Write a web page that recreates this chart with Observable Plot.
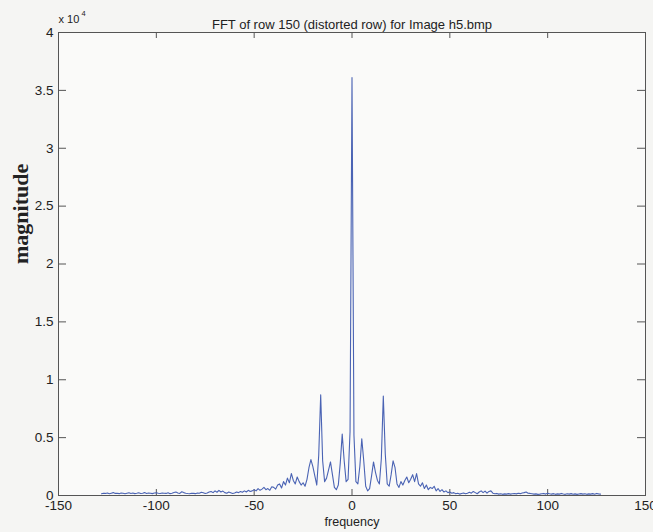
<!DOCTYPE html>
<html>
<head>
<meta charset="utf-8">
<script src="https://cdn.jsdelivr.net/npm/d3@7"></script>
<script src="https://cdn.jsdelivr.net/npm/@observablehq/plot@0.6"></script>
<style>
  html, body { margin: 0; padding: 0; background: #f5f5f3; }
  #chart svg { display: block; }
</style>
</head>
<body>
<div id="chart"></div>
<script>
// Frequency index (fftshift of a 256-point row FFT)
const frequency = d3.range(-128, 128);
// Magnitude in units of 10^4
const magnitude = [
  0.015,0.02,0.018,0.022,0.015,0.02,0.025,0.018,
  0.02,0.016,0.022,0.019,0.015,0.02,0.024,0.018,0.021,0.016,
  0.019,0.023,0.017,0.02,0.025,0.018,0.022,0.02,0.016,0.021,
  0.024,0.019,0.017,0.022,0.02,0.018,0.023,0.016,0.02,0.026,
  0.03,0.022,0.018,0.032,0.025,0.02,0.017,0.015,0.02,0.018,
  0.016,0.022,0.02,0.028,0.024,0.018,0.022,0.03,0.035,0.025,
  0.04,0.028,0.045,0.03,0.038,0.025,0.02,0.03,0.024,0.018,
  0.022,0.03,0.025,0.035,0.028,0.04,0.03,0.045,0.035,0.04,
  0.05,0.04,0.06,0.045,0.055,0.07,0.05,0.06,0.045,0.075,
  0.07,0.055,0.09,0.1,0.065,0.12,0.09,0.15,0.11,0.19,
  0.13,0.1,0.16,0.12,0.09,0.11,0.08,0.14,0.24,0.31,
  0.25,0.17,0.09,0.35,0.87,0.3,0.12,0.15,0.22,0.29,
  0.18,0.07,0.05,0.09,0.28,0.53,0.3,0.12,0.14,0.55,
  3.61,
  0.52,0.12,0.1,0.25,0.49,0.3,0.08,0.04,0.06,0.17,
  0.29,0.2,0.13,0.1,0.32,0.86,0.36,0.1,0.08,0.18,
  0.3,0.24,0.1,0.07,0.12,0.09,0.13,0.16,0.11,0.14,
  0.18,0.12,0.19,0.1,0.08,0.11,0.06,0.09,0.05,0.07,
  0.06,0.08,0.04,0.06,0.035,0.05,0.03,0.04,0.025,0.03,
  0.02,0.025,0.015,0.02,0.012,0.018,0.022,0.015,0.02,0.028,
  0.02,0.035,0.025,0.015,0.03,0.04,0.025,0.038,0.02,0.035,
  0.04,0.02,0.015,0.018,0.012,0.015,0.01,0.014,0.012,0.016,
  0.012,0.015,0.018,0.014,0.02,0.016,0.022,0.025,0.03,0.02,
  0.018,0.015,0.012,0.014,0.01,0.012,0.015,0.018,0.012,0.02,
  0.015,0.012,0.016,0.01,0.014,0.012,0.018,0.013,0.01,0.015,
  0.012,0.016,0.011,0.014,0.01,0.013,0.016,0.012,0.015,0.01,
  0.014,0.012,0.016,0.011,0.018,0.014,0.012
];
const xTicks = [-150, -100, -50, 0, 50, 100, 150];
const yTicks = [0, 0.5, 1, 1.5, 2, 2.5, 3, 3.5, 4];
const titleText = "FFT of row 150 (distorted row) for Image h5.bmp";
const xLabel = "frequency";
const yLabel = "magnitude";

const data = frequency.map((f, i) => ({f, m: magnitude[i]}));
const font = "'Liberation Sans', Arial, sans-serif";
const axisColor = "#555";

const chart = Plot.plot({
  width: 653,
  height: 532,
  marginLeft: 58,
  marginRight: 8,
  marginTop: 32,
  marginBottom: 37,
  style: {background: "transparent", fontFamily: font, fontSize: "14px", color: "#222"},
  x: {domain: [-150, 150]},
  y: {domain: [0, 4]},
  marks: [
    Plot.frame({stroke: axisColor, fill: "#fafaf9"}),
    Plot.axisX(xTicks, {anchor: "bottom", tickSize: 0, tickPadding: 5, label: null, fontSize: 13.5, tickFormat: d => String(d)}),
    Plot.tickX(xTicks, {x: d => d, stroke: axisColor, insetTop: 457}),
    Plot.tickX(xTicks, {x: d => d, stroke: axisColor, insetBottom: 457}),
    Plot.axisY(yTicks, {anchor: "left", tickSize: 0, tickPadding: 5, label: null, fontSize: 13.5, tickFormat: d => String(d)}),
    Plot.tickY(yTicks, {y: d => d, stroke: axisColor, insetRight: 579}),
    Plot.tickY(yTicks, {y: d => d, stroke: axisColor, insetLeft: 579}),
    Plot.line(data, {x: "f", y: "m", stroke: "#4a63b4", strokeWidth: 1.1}),
    Plot.text([titleText], {frameAnchor: "top", dy: -13, fontSize: 13, fill: "#222"}),
    Plot.text(["x 10"], {frameAnchor: "top-left", dx: 0, dy: -17, textAnchor: "start", fontSize: 11, fill: "#222"}),
    Plot.text(["4"], {frameAnchor: "top-left", dx: 23, dy: -22, textAnchor: "start", fontSize: 7.5, fill: "#222"}),
    Plot.text([xLabel], {frameAnchor: "bottom", dy: 30, fontSize: 12.5, fill: "#222"}),
    Plot.text([yLabel], {frameAnchor: "left", dx: -38, rotate: -90, fontSize: 22, fontWeight: "bold", fontFamily: "'Liberation Serif', 'Times New Roman', serif", fill: "#222"})
  ]
});
document.getElementById("chart").appendChild(chart);
</script>
</body>
</html>
